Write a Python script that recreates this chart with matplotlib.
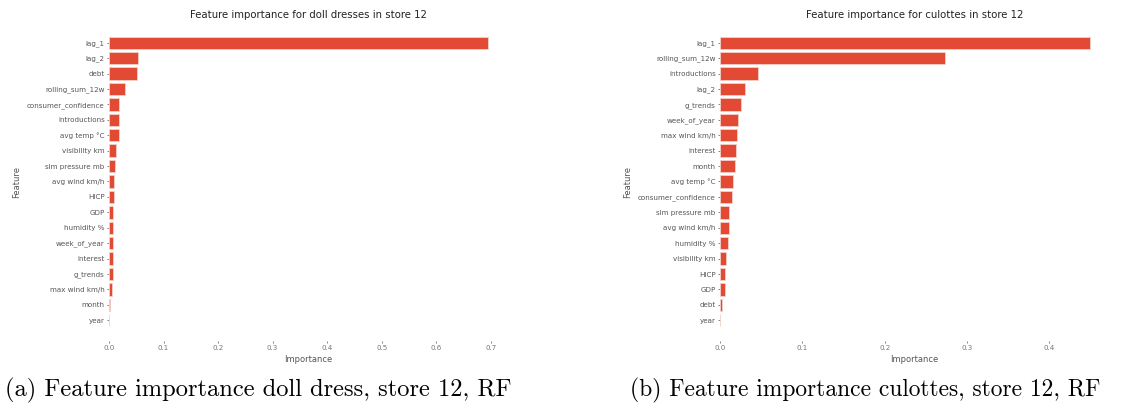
import matplotlib
matplotlib.use("Agg")
import matplotlib.pyplot as plt

# Random-forest feature importances, store 12
doll_features = ["lag_1", "lag_2", "debt", "rolling_sum_12w", "consumer_confidence",
                 "introductions", "avg temp °C", "visibility km", "slm pressure mb",
                 "avg wind km/h", "HICP", "GDP", "humidity %", "week_of_year",
                 "interest", "g_trends", "max wind km/h", "month", "year"]
doll_importance = [0.695, 0.0526, 0.0513, 0.0288, 0.0189, 0.0183, 0.0183, 0.0134,
                   0.0115, 0.0097, 0.0092, 0.0079, 0.0074, 0.0073, 0.0073, 0.0073,
                   0.0060, 0.0024, 0.0]

culottes_features = ["lag_1", "rolling_sum_12w", "introductions", "lag_2", "g_trends",
                     "week_of_year", "max wind km/h", "interest", "month", "avg temp °C",
                     "consumer_confidence", "slm pressure mb", "avg wind km/h",
                     "humidity %", "visibility km", "HICP", "GDP", "debt", "year"]
culottes_importance = [0.4494, 0.2738, 0.0466, 0.0308, 0.0255, 0.0223, 0.0203, 0.0199,
                       0.0186, 0.0154, 0.0146, 0.0109, 0.0107, 0.0097, 0.0078, 0.0065,
                       0.0057, 0.0024, 0.0]

titles = ["Feature importance for doll dresses in store 12",
          "Feature importance for culottes in store 12"]
captions = ["(a) Feature importance doll dress, store 12, RF",
            "(b) Feature importance culottes, store 12, RF"]

plt.style.use("ggplot")
plt.rcParams["font.family"] = ["DejaVu Sans"]

W, H = 1138, 413
fig = plt.figure(figsize=(W / 100, H / 100), dpi=100, facecolor="white")

axes_px = [(109, 507), (720, 1108.5)]
top_px, bottom_px = 22, 341

panels = [(doll_features, doll_importance), (culottes_features, culottes_importance)]

for (left, right), (feats, vals), title in zip(axes_px, panels, titles):
    ax = fig.add_axes([left / W, 1 - bottom_px / H, (right - left) / W,
                       (bottom_px - top_px) / H])
    ax.set_facecolor("white")
    ax.grid(False)
    ax.barh(feats, vals, height=0.8, color="#E24A33", edgecolor="#F4D0C8", linewidth=0.6)
    ax.invert_yaxis()
    for s in ax.spines.values():
        s.set_visible(False)
    ax.tick_params(axis="both", length=1.6, width=0.5, colors="#555555",
                   labelsize=5.1, pad=1.5)
    ax.tick_params(axis="x", labelcolor="#777777")
    ax.set_title(title, fontsize=7.3, color="#222222", pad=3)
    ax.set_xlabel("Importance", fontsize=6, color="#555555", labelpad=3)
    ax.set_ylabel("Feature", fontsize=6, color="#555555", labelpad=4)

cap_x = [5, 630]
cap_size = [17.6, 16.9]
for x, size, cap in zip(cap_x, cap_size, captions):
    fig.text(x / W, 1 - 396 / H, cap, family="cmr10", fontsize=size, color="black",
             ha="left", va="baseline")

fig.savefig("out.png", dpi=100, facecolor="white")
